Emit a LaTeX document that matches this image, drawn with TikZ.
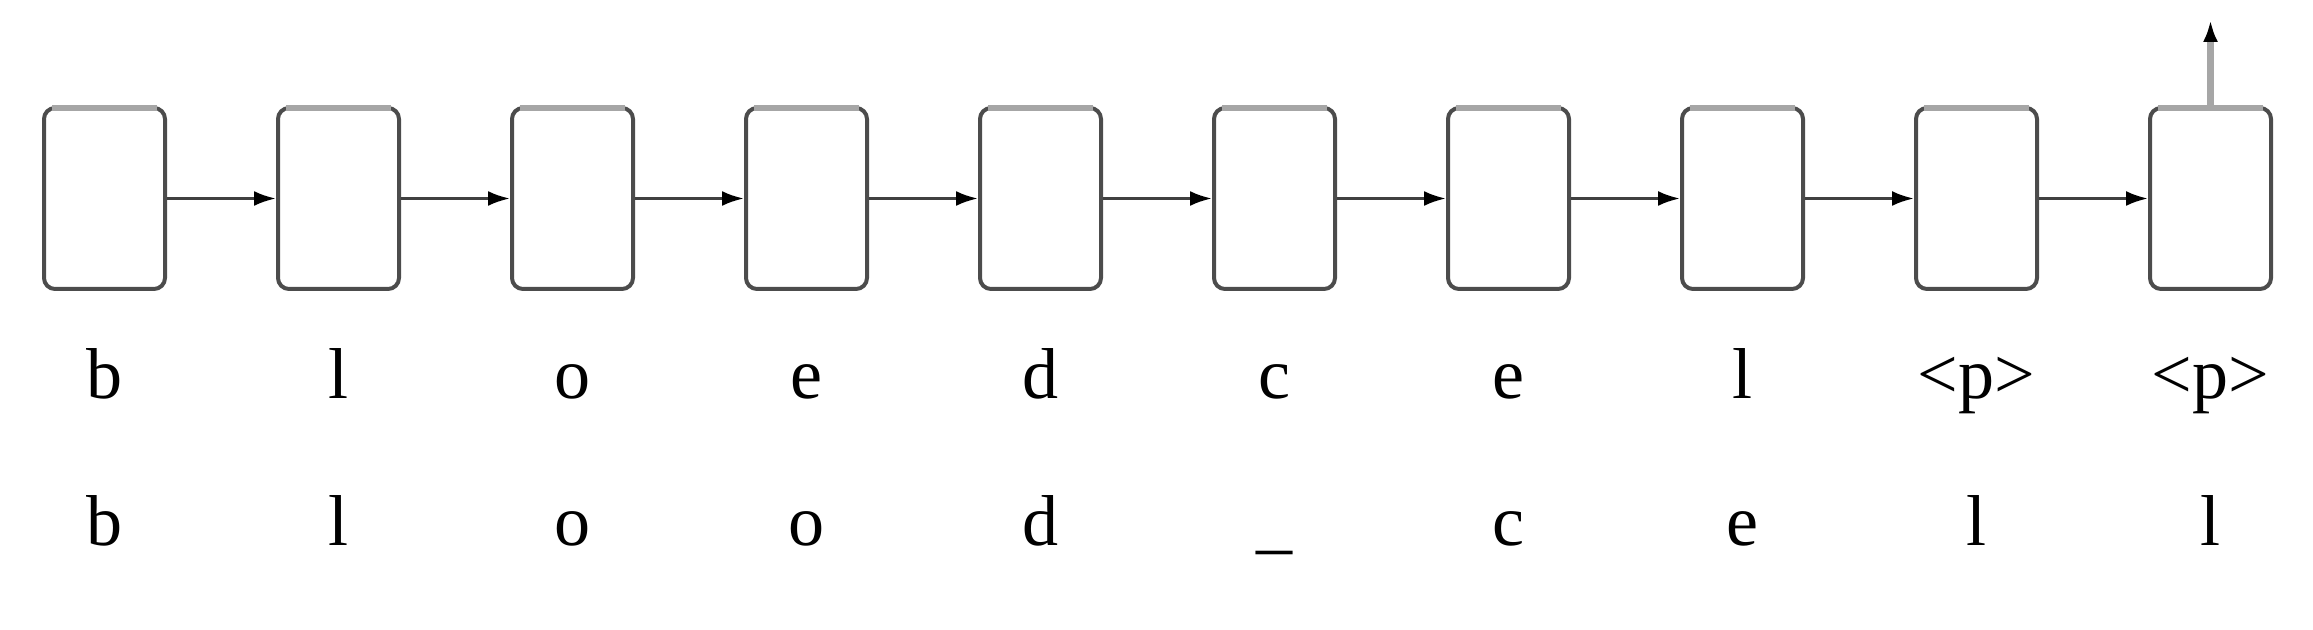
\documentclass[tikz,border=0pt]{standalone}
\usepackage{fontspec}
\setmainfont{Liberation Serif}
\usepackage{tikz}
\usetikzlibrary{positioning,arrows.meta}

\begin{document}
\begin{tikzpicture}[node distance=4.68cm,on grid,>={Latex[length=0.44cm,width=0.3cm,color=black]}]
    \tikzset{rim/.style={draw=black!35,line width=0.12cm},
      cell/.style={draw=black!70,line width=0.08cm,rectangle,rounded corners=0.22cm,
        minimum width=2.42cm,minimum height=3.62cm,inner sep=0pt,
        append after command={([xshift=0.2cm,yshift=-0.04cm]\tikzlastnode.north west) edge[rim] ([xshift=-0.2cm,yshift=-0.04cm]\tikzlastnode.north east)}},
      char/.style={font=\fontsize{41}{48}\selectfont,inner sep=0pt},
      link/.style={->,draw=black!75,line width=0.06cm}}
    \useasboundingbox (0,0) rectangle (46.26,12.58);
    \node[cell] (c0) at (2.09,8.61) {};
    \node[cell] (c1) [right = of c0] {};
    \node[cell] (c2) [right = of c1] {};
    \node[cell] (c3) [right = of c2] {};
    \node[cell] (c4) [right = of c3] {};
    \node[cell] (c5) [right = of c4] {};
    \node[cell] (c6) [right = of c5] {};
    \node[cell] (c7) [right = of c6] {};
    \node[cell] (c8) [right = of c7] {};
    \node[cell] (c9) [right = of c8] {};
    % predicted characters
    \node[char] (out0) [below = 4cm of c0, anchor=base] {b};
    \node[char] (out1) [below = 4cm of c1, anchor=base] {l};
    \node[char] (out2) [below = 4cm of c2, anchor=base] {o};
    \node[char] (out3) [below = 4cm of c3, anchor=base] {e};
    \node[char] (out4) [below = 4cm of c4, anchor=base] {d};
    \node[char] (out5) [below = 4cm of c5, anchor=base] {c};
    \node[char] (out6) [below = 4cm of c6, anchor=base] {e};
    \node[char] (out7) [below = 4cm of c7, anchor=base] {l};
    \node[char] (out8) [below = 4cm of c8, anchor=base] {<p>};
    \node[char] (out9) [below = 4cm of c9, anchor=base] {<p>};
    % input characters
    \node[char] (in0) [below = 6.94cm of c0, anchor=base] {b};
    \node[char] (in1) [below = 6.94cm of c1, anchor=base] {l};
    \node[char] (in2) [below = 6.94cm of c2, anchor=base] {o};
    \node[char] (in3) [below = 6.94cm of c3, anchor=base] {o};
    \node[char] (in4) [below = 6.94cm of c4, anchor=base] {d};
    \node[char] (in5) [below = 6.94cm of c5, anchor=base] {\_};
    \node[char] (in6) [below = 6.94cm of c6, anchor=base] {c};
    \node[char] (in7) [below = 6.94cm of c7, anchor=base] {e};
    \node[char] (in8) [below = 6.94cm of c8, anchor=base] {l};
    \node[char] (in9) [below = 6.94cm of c9, anchor=base] {l};
    \coordinate[above = 1.72cm of c9.north] (top);
    \path[link]
    (c0) edge (c1)
    (c1) edge (c2)
    (c2) edge (c3)
    (c3) edge (c4)
    (c4) edge (c5)
    (c5) edge (c6)
    (c6) edge (c7)
    (c7) edge (c8)
    (c8) edge (c9)
    ;
    \draw[->,draw=black!35,line width=0.14cm] (c9) -- (top);
  \end{tikzpicture}
\end{document}
